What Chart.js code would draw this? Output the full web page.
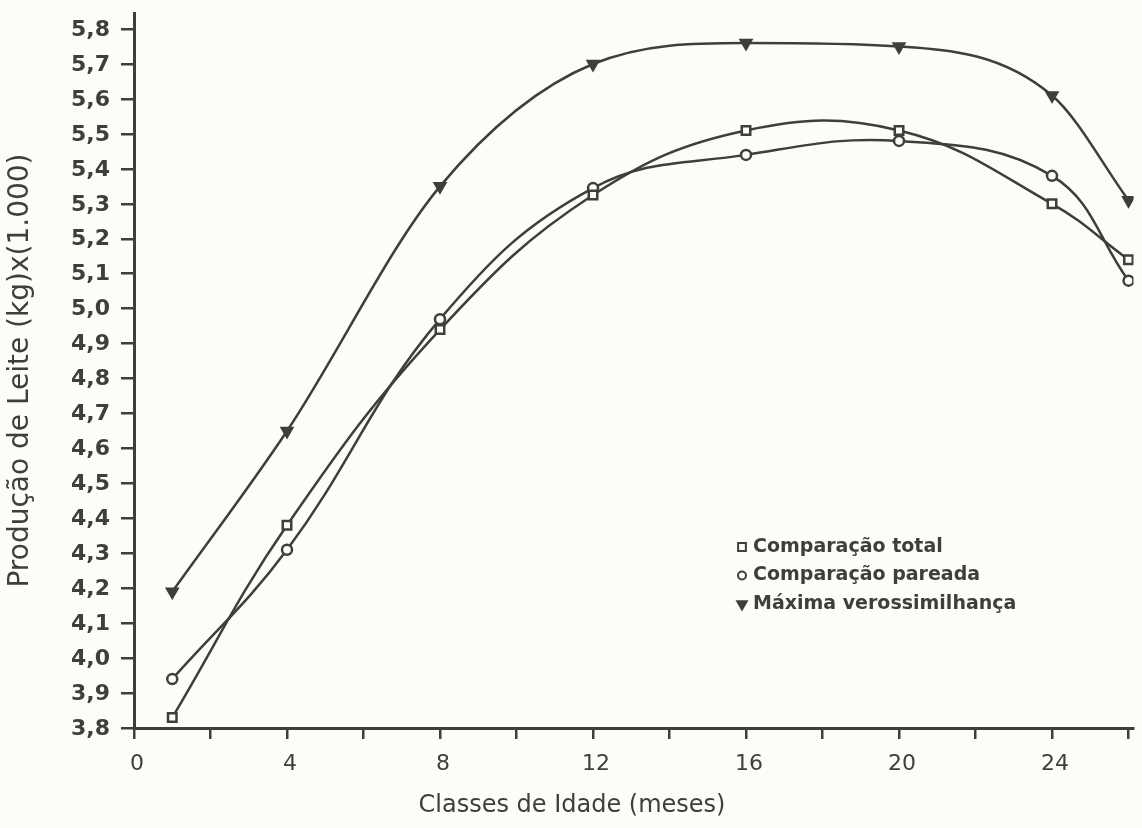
<!DOCTYPE html>
<html>
<head>
<meta charset="utf-8">
<script src="https://cdn.jsdelivr.net/npm/chart.js@4.4.1/dist/chart.umd.min.js"></script>
<style>
  body { margin: 0; background: #fcfcf8; }
  #wrap { width: 1142px; height: 828px; position: relative; }
</style>
</head>
<body>
<div id="wrap"><canvas id="chart"></canvas></div>
<script>
const ageClasses = [1, 4, 8, 12, 16, 20, 24, 26];
const comparacaoTotal = [3.83, 4.38, 4.94, 5.325, 5.51, 5.51, 5.30, 5.14];
const comparacaoPareada = [3.94, 4.31, 4.97, 5.345, 5.44, 5.48, 5.38, 5.08];
const maximaVerossimilhanca = [4.19, 4.65, 5.35, 5.70, 5.76, 5.75, 5.61, 5.31];

const xTickValues = [0, 2, 4, 6, 8, 10, 12, 14, 16, 18, 20, 22, 24, 26];
const xTickLabels = ['0', '', '4', '', '8', '', '12', '', '16', '', '20', '', '24', ''];
const yTickValues = [3.8, 3.9, 4.0, 4.1, 4.2, 4.3, 4.4, 4.5, 4.6, 4.7, 4.8, 4.9, 5.0, 5.1, 5.2, 5.3, 5.4, 5.5, 5.6, 5.7, 5.8];
const yTickLabels = ['3,8', '3,9', '4,0', '4,1', '4,2', '4,3', '4,4', '4,5', '4,6', '4,7', '4,8', '4,9', '5,0', '5,1', '5,2', '5,3', '5,4', '5,5', '5,6', '5,7', '5,8'];

const seriesNames = ['Comparação total', 'Comparação pareada', 'Máxima verossimilhança'];

const INK = '#3d4038';
const PAPER = '#fcfcf8';

function toPoints(values) {
  return values.map((v, i) => ({ x: ageClasses[i], y: v }));
}

// tick labels, legend and x title are drawn here so they sit where the original has them
const annotate = {
  id: 'annotate',
  afterDraw(chart) {
    const ctx = chart.ctx;
    const xs = chart.scales.x;
    const ys = chart.scales.y;
    ctx.save();
    ctx.fillStyle = INK;

    ctx.font = '22px "DejaVu Sans"';
    ctx.textAlign = 'center';
    ctx.textBaseline = 'middle';
    xTickValues.forEach((v, i) => {
      if (xTickLabels[i]) ctx.fillText(xTickLabels[i], xs.getPixelForValue(v) + 3, 764);
    });

    ctx.font = 'bold 22px "DejaVu Sans"';
    ctx.textAlign = 'right';
    yTickValues.forEach((v, i) => {
      ctx.fillText(yTickLabels[i], 110, ys.getPixelForValue(v) + 1);
    });

    const styles = [
      { pointStyle: 'rect', radius: 5.5, rotation: 0, fill: PAPER },
      { pointStyle: 'circle', radius: 4, rotation: 0, fill: PAPER },
      { pointStyle: 'triangle', radius: 5.5, rotation: 180, fill: INK }
    ];
    ctx.font = 'bold 19px "DejaVu Sans"';
    ctx.textAlign = 'left';
    seriesNames.forEach((name, i) => {
      const y = 547 + i * 28.5;
      ctx.strokeStyle = INK;
      ctx.fillStyle = styles[i].fill;
      ctx.lineWidth = 2;
      Chart.helpers.drawPoint(ctx, { pointStyle: styles[i].pointStyle, radius: styles[i].radius, rotation: styles[i].rotation, borderWidth: 2 }, 742, y);
      ctx.fillStyle = INK;
      ctx.fillText(name, 753, y);
    });

    ctx.font = '24px "DejaVu Sans"';
    ctx.textAlign = 'center';
    ctx.fillText('Classes de Idade (meses)', 572, 806);
    ctx.restore();
  }
};

const lineStyle = {
  borderColor: INK,
  borderWidth: 2.5,
  pointBorderColor: INK
};

const ctx = document.getElementById('chart').getContext('2d');
new Chart(ctx, {
  type: 'line',
  data: {
    datasets: [
      {
        ...lineStyle,
        label: seriesNames[0],
        data: toPoints(comparacaoTotal),
        tension: 0.4,
        pointStyle: 'rect',
        pointRadius: 6,
        pointBorderWidth: 2.5,
        pointBackgroundColor: PAPER
      },
      {
        ...lineStyle,
        label: seriesNames[1],
        data: toPoints(comparacaoPareada),
        tension: 0.4,
        pointStyle: 'circle',
        pointRadius: 5,
        pointBorderWidth: 2.5,
        pointBackgroundColor: PAPER
      },
      {
        ...lineStyle,
        label: seriesNames[2],
        data: toPoints(maximaVerossimilhanca),
        cubicInterpolationMode: 'monotone',
        pointStyle: 'triangle',
        pointRotation: 180,
        pointRadius: 7,
        pointBorderWidth: 1.5,
        pointBackgroundColor: INK
      }
    ]
  },
  options: {
    responsive: true,
    maintainAspectRatio: false,
    animation: false,
    layout: { padding: { top: 13, right: 2, left: 0, bottom: 0 } },
    plugins: {
      legend: { display: false },
      tooltip: { enabled: false }
    },
    scales: {
      x: {
        type: 'linear',
        min: 0,
        max: 26.13,
        afterBuildTicks: (scale) => { scale.ticks = xTickValues.map(v => ({ value: v })); },
        afterFit: (scale) => { scale.height = 100; },
        ticks: { display: false, autoSkip: false },
        grid: { drawOnChartArea: false, drawTicks: true, tickLength: 11, color: INK, lineWidth: 2.5 },
        border: { display: true, color: INK, width: 3 }
      },
      y: {
        type: 'linear',
        min: 3.8,
        max: 5.846,
        afterBuildTicks: (scale) => { scale.ticks = yTickValues.map(v => ({ value: v })); },
        afterFit: (scale) => { scale.width = 134; },
        ticks: { display: false, autoSkip: false },
        grid: { drawOnChartArea: false, drawTicks: true, tickLength: 13, color: INK, lineWidth: 2.5 },
        border: { display: true, color: INK, width: 3 },
        title: {
          display: true,
          text: 'Produção de Leite (kg)x(1.000)',
          color: INK,
          font: { family: 'DejaVu Sans', size: 28 },
          padding: { top: 4, bottom: 0 }
        }
      }
    }
  },
  plugins: [annotate]
});
</script>
</body>
</html>
